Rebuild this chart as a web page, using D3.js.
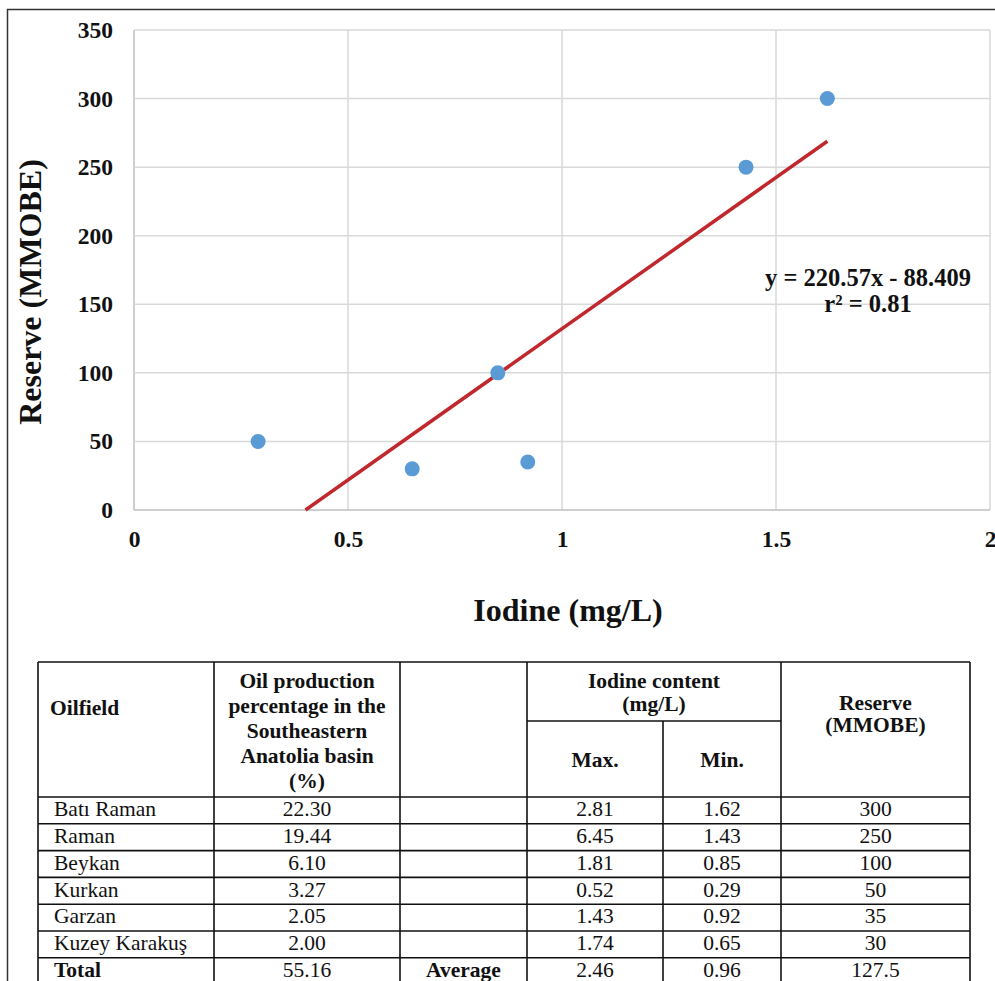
<!DOCTYPE html>
<html>
<head>
<meta charset="utf-8">
<script src="https://cdn.jsdelivr.net/npm/d3@7"></script>
<style>
  html, body { margin: 0; padding: 0; background: #fff; }
  svg { display: block; font-family: "Liberation Serif", "Times New Roman", serif; }
</style>
</head>
<body>
<svg id="fig" width="995" height="981"></svg>
<script>
// Oilfield data
const oilfields = ["Batı Raman", "Raman", "Beykan", "Kurkan", "Garzan", "Kuzey Karakuş"];
const productionPct = ["22.30", "19.44", "6.10", "3.27", "2.05", "2.00"];
const iodineMax = ["2.81", "6.45", "1.81", "0.52", "1.43", "1.74"];
const iodineMin = [1.62, 1.43, 0.85, 0.29, 0.92, 0.65];
const reserve = [300, 250, 100, 50, 35, 30];
const totals = { production: "55.16", max: "2.46", min: "0.96", reserve: "127.5" };

// Regression line y = slope * x + intercept
const slope = 220.57, intercept = -88.409;
const xTicks = [0, 0.5, 1, 1.5, 2];
const yTicks = [0, 50, 100, 150, 200, 250, 300, 350];

const svg = d3.select("#fig");

// Outer frame
svg.append("path")
  .attr("d", "M995,9.5 H7.5 V981")
  .attr("fill", "none").attr("stroke", "#333").attr("stroke-width", 1.5);

const plot = { left: 134, right: 990, top: 30, bottom: 510 };
const x = d3.scaleLinear().domain([0, 2]).range([plot.left, plot.right]);
const y = d3.scaleLinear().domain([0, 350]).range([plot.bottom, plot.top]);

// Gridlines
const grid = svg.append("g");
grid.selectAll("line.v").data(xTicks).join("line")
  .attr("x1", d => x(d)).attr("x2", d => x(d))
  .attr("y1", plot.top).attr("y2", plot.bottom)
  .attr("stroke", d => d === 0 ? "#bfbfbf" : "#d9d9d9").attr("stroke-width", 1.5);
grid.selectAll("line.h").data(yTicks).join("line")
  .attr("x1", plot.left).attr("x2", plot.right)
  .attr("y1", d => y(d)).attr("y2", d => y(d))
  .attr("stroke", d => d === 0 ? "#bfbfbf" : "#d9d9d9").attr("stroke-width", 1.5);

// Axes (labels only)
const xAxis = svg.append("g").attr("transform", `translate(0,${plot.bottom})`)
  .call(d3.axisBottom(x).tickValues(xTicks).tickSize(0).tickPadding(20).tickFormat(d3.format("")));
const yAxis = svg.append("g").attr("transform", `translate(${plot.left},0)`)
  .call(d3.axisLeft(y).tickValues(yTicks).tickSize(0).tickPadding(21));
[xAxis, yAxis].forEach(a => {
  a.select(".domain").remove();
  a.selectAll("text").attr("font-family", "Liberation Serif, serif")
    .attr("font-size", 23.5).attr("font-weight", "bold").attr("fill", "#111");
});

// Trendline from the x-intercept to the largest x
const xs = iodineMin;
const x0 = -intercept / slope, x1 = d3.max(xs);
svg.append("line")
  .attr("x1", x(x0)).attr("y1", y(slope * x0 + intercept))
  .attr("x2", x(x1)).attr("y2", y(slope * x1 + intercept))
  .attr("stroke", "#c0282d").attr("stroke-width", 3.5);

// Data points
svg.append("g").selectAll("circle").data(d3.range(xs.length)).join("circle")
  .attr("cx", i => x(xs[i])).attr("cy", i => y(reserve[i])).attr("r", 7.5)
  .attr("fill", "#5b9bd5");

// Equation label
const eq = svg.append("text").attr("text-anchor", "middle")
  .attr("font-size", 24.5).attr("font-weight", "bold").attr("fill", "#111");
eq.append("tspan").attr("x", 868).attr("y", 285.5).text("y = 220.57x - 88.409");
eq.append("tspan").attr("x", 868).attr("y", 311.5).text("r² = 0.81");

// Axis titles
svg.append("text").attr("x", 568).attr("y", 621).attr("text-anchor", "middle")
  .attr("font-size", 32).attr("font-weight", "bold").attr("fill", "#111").text("Iodine (mg/L)");
svg.append("text").attr("transform", "translate(41,292) rotate(-90)").attr("text-anchor", "middle")
  .attr("font-size", 32).attr("font-weight", "bold").attr("fill", "#111").text("Reserve (MMOBE)");

// Table
const cols = [38, 214, 400, 527, 663, 781, 970];
const headTop = 662, subLine = 721, headBottom = 797, rowH = 26.8;
const tbl = svg.append("g");
const line = (x1, y1, x2, y2) => tbl.append("line")
  .attr("x1", x1).attr("y1", y1).attr("x2", x2).attr("y2", y2)
  .attr("stroke", "#111").attr("stroke-width", 1.6);

const nRows = oilfields.length + 1;
const tableBottom = headBottom + nRows * rowH;
line(cols[0], headTop, cols[6], headTop);
line(cols[3], subLine, cols[5], subLine);
for (let r = 0; r <= nRows; r++) line(cols[0], headBottom + r * rowH, cols[6], headBottom + r * rowH);
cols.forEach((c, i) => {
  if (i === 4) line(c, subLine, c, tableBottom);
  else line(c, headTop, c, tableBottom);
});

const cellText = (txt, cx, cy, opts = {}) => tbl.append("text")
  .attr("x", cx).attr("y", cy).attr("text-anchor", opts.anchor || "middle")
  .attr("font-size", 21.5).attr("font-weight", opts.bold ? "bold" : "normal")
  .attr("fill", "#111").text(txt);

// Header
cellText("Oilfield", 50, 715, { anchor: "start", bold: true });
["Oil production", "percentage in the", "Southeastern", "Anatolia basin", "(%)"].forEach((t, i) =>
  cellText(t, (cols[1] + cols[2]) / 2, 688 + i * 25, { bold: true }));
["Iodine content", "(mg/L)"].forEach((t, i) =>
  cellText(t, (cols[3] + cols[5]) / 2, 688 + i * 23, { bold: true }));
cellText("Max.", (cols[3] + cols[4]) / 2, 767, { bold: true });
cellText("Min.", (cols[4] + cols[5]) / 2, 767, { bold: true });
["Reserve", "(MMOBE)"].forEach((t, i) =>
  cellText(t, (cols[5] + cols[6]) / 2, 710 + i * 22, { bold: true }));

// Body rows
const textOffset = 19.2;
oilfields.forEach((name, i) => {
  const cy = headBottom + i * rowH + textOffset;
  cellText(name, 54, cy, { anchor: "start" });
  cellText(productionPct[i], (cols[1] + cols[2]) / 2, cy);
  cellText(iodineMax[i], (cols[3] + cols[4]) / 2, cy);
  cellText(iodineMin[i].toFixed(2), (cols[4] + cols[5]) / 2, cy);
  cellText(String(reserve[i]), (cols[5] + cols[6]) / 2, cy);
});
const ty = headBottom + oilfields.length * rowH + textOffset;
cellText("Total", 54, ty, { anchor: "start", bold: true });
cellText(totals.production, (cols[1] + cols[2]) / 2, ty);
cellText("Average", (cols[2] + cols[3]) / 2, ty, { bold: true });
cellText(totals.max, (cols[3] + cols[4]) / 2, ty);
cellText(totals.min, (cols[4] + cols[5]) / 2, ty);
cellText(totals.reserve, (cols[5] + cols[6]) / 2, ty);
</script>
</body>
</html>
